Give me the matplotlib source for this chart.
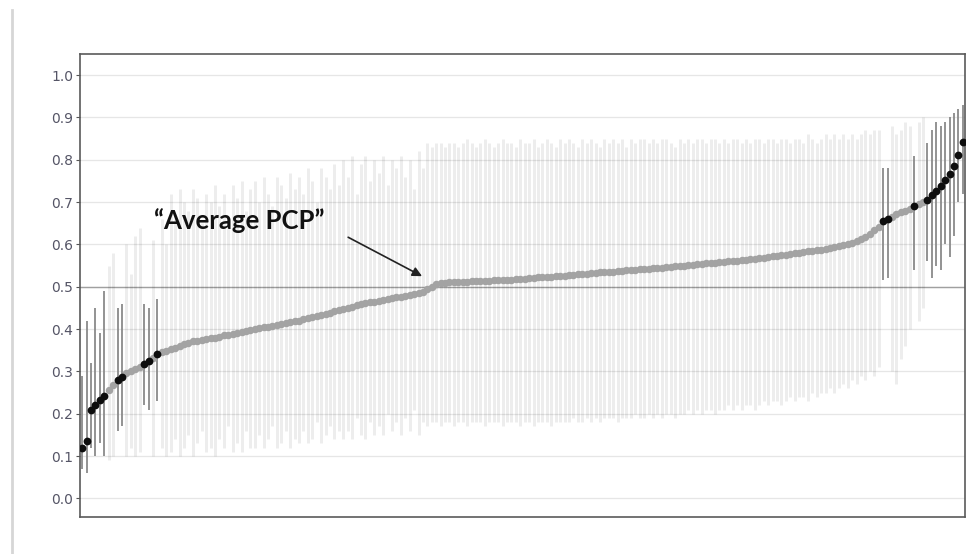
import matplotlib
matplotlib.use("Agg")
import matplotlib.pyplot as plt
from matplotlib.lines import Line2D
import numpy as np

# ---- data ----
est = [
    0.120, 0.135, 0.210, 0.220, 0.232, 0.243, 0.255, 0.268, 0.280, 0.287,
    0.296, 0.301, 0.305, 0.310, 0.318, 0.325, 0.332, 0.340, 0.345, 0.348,
    0.352, 0.356, 0.360, 0.364, 0.368, 0.372, 0.373, 0.374, 0.376, 0.378,
    0.380, 0.382, 0.385, 0.387, 0.389, 0.391, 0.393, 0.395, 0.397, 0.400,
    0.402, 0.404, 0.406, 0.408, 0.410, 0.412, 0.414, 0.416, 0.418, 0.420,
    0.423, 0.426, 0.428, 0.431, 0.434, 0.436, 0.439, 0.442, 0.445, 0.448,
    0.450, 0.453, 0.456, 0.459, 0.461, 0.463, 0.465, 0.467, 0.469, 0.471,
    0.473, 0.475, 0.477, 0.479, 0.481, 0.483, 0.485, 0.488, 0.494, 0.500,
    0.506, 0.509, 0.510, 0.511, 0.511, 0.512, 0.512, 0.512, 0.513, 0.513,
    0.513, 0.514, 0.514, 0.515, 0.515, 0.516, 0.516, 0.517, 0.518, 0.519,
    0.519, 0.520, 0.521, 0.522, 0.522, 0.523, 0.524, 0.525, 0.525, 0.526,
    0.527, 0.528, 0.529, 0.530, 0.531, 0.532, 0.533, 0.534, 0.535, 0.535,
    0.536, 0.537, 0.538, 0.539, 0.539, 0.540, 0.541, 0.542, 0.543, 0.544,
    0.544, 0.545, 0.546, 0.547, 0.548, 0.549, 0.550, 0.551, 0.552, 0.553,
    0.554, 0.555, 0.556, 0.557, 0.558, 0.559, 0.560, 0.561, 0.562, 0.563,
    0.564, 0.565, 0.566, 0.567, 0.569, 0.570, 0.572, 0.573, 0.574, 0.576,
    0.577, 0.579, 0.580, 0.582, 0.584, 0.585, 0.587, 0.588, 0.590, 0.592,
    0.594, 0.596, 0.598, 0.600, 0.603, 0.607, 0.612, 0.618, 0.625, 0.633,
    0.642, 0.655, 0.660, 0.666, 0.672, 0.676, 0.680, 0.684, 0.690, 0.695,
    0.700, 0.706, 0.716, 0.726, 0.739, 0.752, 0.766, 0.786, 0.812, 0.842,
]

lower = [
    0.07, 0.06, 0.12, 0.10, 0.13, 0.10, 0.09, 0.10, 0.16, 0.17,
    0.10, 0.12, 0.10, 0.11, 0.22, 0.21, 0.10, 0.23, 0.12, 0.10,
    0.11, 0.14, 0.10, 0.12, 0.15, 0.10, 0.13, 0.16, 0.11, 0.12,
    0.10, 0.14, 0.12, 0.17, 0.11, 0.13, 0.11, 0.16, 0.12, 0.12,
    0.15, 0.12, 0.14, 0.17, 0.12, 0.13, 0.16, 0.12, 0.14, 0.13,
    0.16, 0.13, 0.14, 0.18, 0.13, 0.15, 0.17, 0.14, 0.16, 0.14,
    0.16, 0.14, 0.19, 0.15, 0.14, 0.18, 0.15, 0.17, 0.15, 0.20,
    0.16, 0.18, 0.15, 0.19, 0.16, 0.21, 0.15, 0.18, 0.17, 0.18,
    0.18, 0.17, 0.18, 0.18, 0.17, 0.18, 0.18, 0.17, 0.18, 0.18,
    0.18, 0.17, 0.18, 0.18, 0.18, 0.17, 0.18, 0.18, 0.18, 0.17,
    0.18, 0.18, 0.17, 0.18, 0.18, 0.18, 0.17, 0.18, 0.18, 0.18,
    0.18, 0.19, 0.18, 0.18, 0.19, 0.18, 0.19, 0.18, 0.19, 0.19,
    0.19, 0.18, 0.19, 0.19, 0.19, 0.20, 0.19, 0.19, 0.20, 0.19,
    0.20, 0.19, 0.20, 0.20, 0.19, 0.20, 0.20, 0.21, 0.20, 0.21,
    0.20, 0.21, 0.21, 0.20, 0.21, 0.21, 0.22, 0.21, 0.22, 0.21,
    0.22, 0.22, 0.21, 0.22, 0.23, 0.22, 0.23, 0.23, 0.22, 0.23,
    0.24, 0.23, 0.24, 0.24, 0.23, 0.25, 0.24, 0.25, 0.25, 0.26,
    0.25, 0.26, 0.27, 0.26, 0.28, 0.27, 0.29, 0.28, 0.30, 0.29,
    0.31, 0.515, 0.52, 0.30, 0.27, 0.33, 0.36, 0.40, 0.54, 0.42,
    0.45, 0.56, 0.52, 0.55, 0.54, 0.60, 0.57, 0.62, 0.70, 0.72,
]

upper = [
    0.29, 0.42, 0.32, 0.45, 0.39, 0.49, 0.55, 0.58, 0.45, 0.46,
    0.60, 0.53, 0.62, 0.64, 0.46, 0.45, 0.61, 0.47, 0.66, 0.60,
    0.72, 0.66, 0.73, 0.70, 0.68, 0.73, 0.71, 0.65, 0.72, 0.70,
    0.74, 0.69, 0.72, 0.66, 0.74, 0.71, 0.75, 0.68, 0.73, 0.75,
    0.70, 0.76, 0.72, 0.69, 0.76, 0.74, 0.71, 0.77, 0.73, 0.76,
    0.72, 0.78, 0.75, 0.70, 0.78, 0.76, 0.73, 0.79, 0.74, 0.80,
    0.76, 0.81, 0.72, 0.79, 0.81, 0.75, 0.80, 0.77, 0.81, 0.74,
    0.80, 0.78, 0.81, 0.76, 0.80, 0.73, 0.82, 0.78, 0.84, 0.83,
    0.84, 0.84, 0.83, 0.84, 0.84, 0.83, 0.84, 0.85, 0.84, 0.83,
    0.84, 0.85, 0.84, 0.83, 0.84, 0.85, 0.84, 0.84, 0.83, 0.85,
    0.84, 0.84, 0.85, 0.83, 0.84, 0.85, 0.84, 0.83, 0.85, 0.84,
    0.85, 0.84, 0.83, 0.85, 0.84, 0.85, 0.84, 0.83, 0.85, 0.84,
    0.85, 0.84, 0.85, 0.83, 0.85, 0.84, 0.85, 0.85, 0.84, 0.85,
    0.84, 0.85, 0.85, 0.84, 0.83, 0.85, 0.84, 0.85, 0.84, 0.85,
    0.85, 0.84, 0.85, 0.85, 0.84, 0.85, 0.84, 0.85, 0.85, 0.84,
    0.85, 0.84, 0.85, 0.85, 0.84, 0.85, 0.85, 0.84, 0.85, 0.85,
    0.84, 0.85, 0.85, 0.84, 0.86, 0.85, 0.84, 0.85, 0.86, 0.85,
    0.86, 0.85, 0.86, 0.85, 0.86, 0.85, 0.86, 0.87, 0.86, 0.87,
    0.87, 0.78, 0.78, 0.88, 0.86, 0.87, 0.89, 0.88, 0.81, 0.89,
    0.90, 0.84, 0.87, 0.89, 0.88, 0.89, 0.90, 0.91, 0.92, 0.93,
]

ytick_values = [0.0, 0.1, 0.2, 0.3, 0.4, 0.5, 0.6, 0.7, 0.8, 0.9, 1.0]
ytick_labels = ["0.0", "0.1", "0.2", "0.3", "0.4", "0.5",
                "0.6", "0.7", "0.8", "0.9", "1.0"]
reference_value = 0.5
annotation_text = "\u201cAverage PCP\u201d"

# ---- derived ----
est_a = np.array(est)
lo_a = np.array(lower)
hi_a = np.array(upper)
x = np.arange(1, len(est_a) + 1)
sig = (hi_a < reference_value) | (lo_a > reference_value)

fig = plt.figure(figsize=(9.77, 5.54), dpi=100)
ax = fig.add_axes([80 / 977, 1 - 517 / 554, 885 / 977, 463 / 554])

# grid
for v in ytick_values:
    ax.axhline(v, color="#e6e6e6", lw=0.9, zorder=0)
ax.axhline(reference_value, color="#a0a0a0", lw=1.0, zorder=1)

# light CI lines (non-significant)
ax.vlines(x[~sig], lo_a[~sig], hi_a[~sig], color="black", alpha=0.07,
          lw=2.2, zorder=2)
# dark CI lines (significant)
ax.vlines(x[sig], lo_a[sig], hi_a[sig], color="#8a8a8a", lw=1.3, zorder=3)

# points
ax.plot(x[~sig], est_a[~sig], "o", color="#a3a3a3", ms=5.4, mew=0, zorder=4)
ax.plot(x[sig], est_a[sig], "o", color="#0d0d0d", ms=5.6, mew=0, zorder=5)

ax.set_xlim(0.5, len(est_a) + 0.5)
ax.set_ylim(-0.044, 1.05)
ax.set_xticks([])
ax.set_yticks(ytick_values)
ax.set_yticklabels(ytick_labels)
ax.tick_params(axis="y", length=3, width=0.8, color="#555555",
               labelcolor="#555566", labelsize=10, pad=2)
for s in ax.spines.values():
    s.set_color("#5a5a5a")
    s.set_linewidth(1.2)

ax.text(36.5, 0.657, annotation_text, fontsize=18.5, fontweight="bold",
        family=["Lato", "DejaVu Sans"], ha="center", va="center",
        color="#111111", zorder=6)
ax.annotate("", xy=(77.8, 0.525), xytext=(61.1, 0.617),
            arrowprops=dict(arrowstyle="-|>", color="#222222", lw=1.2,
                            mutation_scale=14, shrinkA=0, shrinkB=0),
            zorder=6)

# left border line of the figure
fig.add_artist(Line2D([11.5 / 977, 11.5 / 977], [0, 1 - 10 / 554],
                      transform=fig.transFigure, color="#d6d6d6", lw=2.0))

fig.savefig("out.png", dpi=100)
